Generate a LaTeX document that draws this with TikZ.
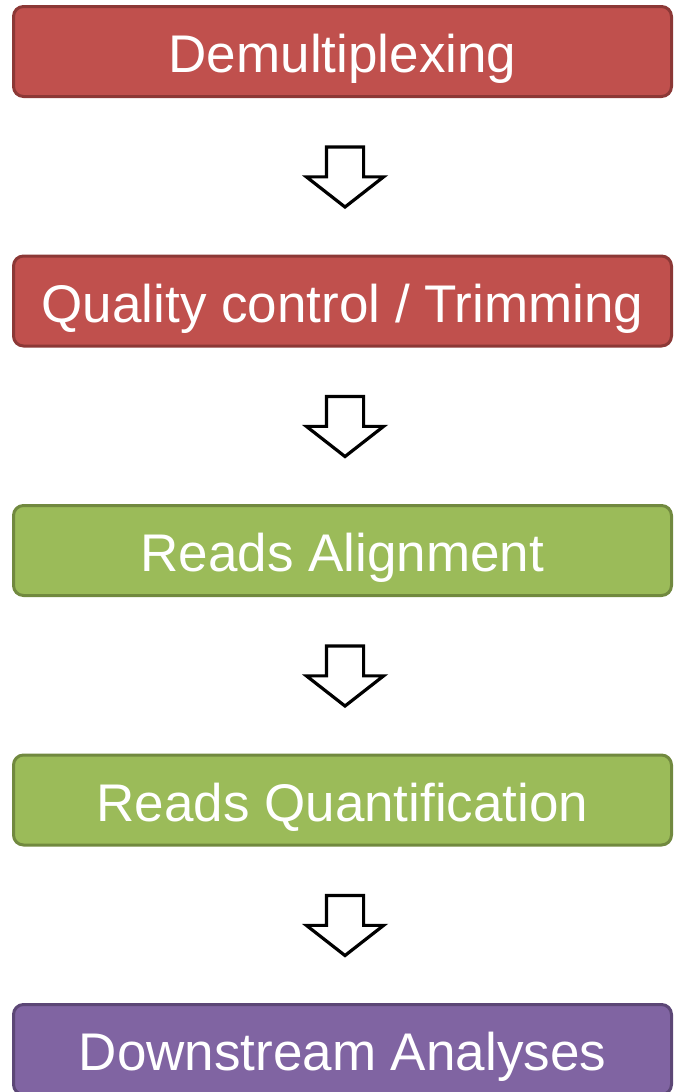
\documentclass[tikz,border=0pt]{standalone}
\usepackage{fontspec}
\setmainfont{Liberation Sans}
\usetikzlibrary{positioning,calc,shapes.arrows}
\definecolor{redfill}{HTML}{C0504D}
\definecolor{redline}{HTML}{8C3836}
\definecolor{greenfill}{HTML}{9BBB59}
\definecolor{greenline}{HTML}{71893F}
\definecolor{purplefill}{HTML}{8064A2}
\definecolor{purpleline}{HTML}{5C4776}
\tikzset{
  stage/.style={rounded corners=10pt, line width=3pt, minimum width=658pt,
    minimum height=90pt, inner sep=0pt, outer sep=0pt, text=white,
    text height=42pt, text depth=0pt, font=\fontsize{53}{60}\selectfont},
  redstage/.style={stage, fill=redfill, draw=redline},
  greenstage/.style={stage, fill=greenfill, draw=greenline},
  purplestage/.style={stage, fill=purplefill, draw=purpleline},
  % shifts are in the arrow's own (turned) frame
  downarrow/.style={single arrow, draw=black, fill=white, line width=3.2pt,
    rotate=-90, minimum height=60pt, inner xsep=0pt, inner ysep=17pt,
    single arrow head extend=20pt, single arrow tip angle=104, outer sep=0pt,
    xshift=-6.5pt, yshift=2.5pt},
}
\begin{document}
\begin{tikzpicture}
        \useasboundingbox (0,0) rectangle (674pt,-1092pt);
        \node[redstage] (demux) at (342.5pt,-51.5pt) {Demultiplexing};
        \node[redstage, below=159.5pt of demux] (qc) {Quality control / Trimming};
        \node[greenstage, below=159.5pt of qc] (align) {Reads Alignment};
        \node[greenstage, below=159.5pt of align] (quant) {Reads Quantification};
        \node[purplestage, below=159.5pt of quant] (down) {Downstream Analyses};
        \node[downarrow] (arr1) at ($(demux.south)!0.5!(qc.north)$) {};
        \node[downarrow] (arr2) at ($(qc.south)!0.5!(align.north)$) {};
        \node[downarrow] (arr3) at ($(align.south)!0.5!(quant.north)$) {};
        \node[downarrow] (arr4) at ($(quant.south)!0.5!(down.north)$) {};
\end{tikzpicture}
\end{document}
